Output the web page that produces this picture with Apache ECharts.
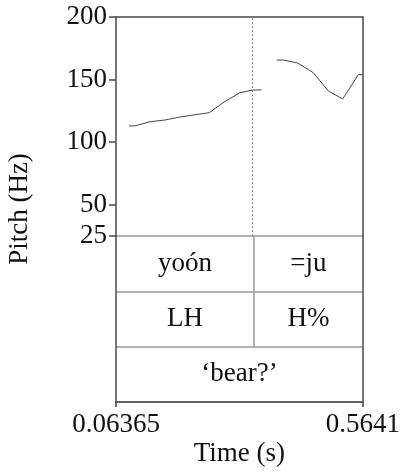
<!DOCTYPE html>
<html>
<head>
<meta charset="utf-8">
<script src="https://cdn.jsdelivr.net/npm/echarts@6/dist/echarts.min.js"></script>
<style>
  html, body { margin: 0; padding: 0; background: #fff; }
  #chart { width: 403px; height: 472px; }
</style>
</head>
<body>
<div id="chart"></div>
<script>
// Time window of the recording (s)
const timeMin = 0.06365;
const timeMax = 0.5641;

// Pitch track, two voiced stretches (time in s, F0 in Hz)
const seg1Time = [0.0900, 0.1022, 0.1325, 0.1629, 0.1933, 0.2237, 0.2527, 0.2825, 0.3149, 0.3418, 0.3589];
const seg1Hz   = [113.0, 113.0, 116.3, 117.7, 120.1, 121.9, 123.5, 132.1, 139.5, 141.7, 141.7];
const seg2Time = [0.3892, 0.4026, 0.4318, 0.4634, 0.4938, 0.5229, 0.5546, 0.5641];
const seg2Hz   = [165.6, 165.6, 163.2, 155.5, 140.9, 134.5, 153.9, 153.9];

// Pitch axis
const pitchMin = 25;
const pitchMax = 200;
const pitchTicks = [25, 50, 100, 150, 200];

// Annotation tiers: word boundary and the labels of each interval
const boundaryTime = 0.3433;
const wordTier  = ['yoón', '=ju'];
const toneTier  = ['LH', 'H%'];
const glossTier = ['‘bear?’'];

const FONT = 'Liberation Serif';
const FS = 27;
const INK = '#111';
const FRAME = '#4a4a4a';
const TIER_LINE = '#9a9a9a';

function pairs(ts, vs) { return ts.map((t, i) => [t, vs[i]]); }

// Interval rows: [start, end, tierIndex, label]
const intervals = [
  [timeMin, boundaryTime, 0, wordTier[0]],
  [boundaryTime, timeMax, 0, wordTier[1]],
  [timeMin, boundaryTime, 1, toneTier[0]],
  [boundaryTime, timeMax, 1, toneTier[1]],
  [timeMin, timeMax, 2, glossTier[0]]
];

const chart = echarts.init(document.getElementById('chart'), null, { renderer: 'canvas' });

const frameAxisLine = { show: true, onZero: false, lineStyle: { color: FRAME, width: 1.5 } };

chart.setOption({
  animation: false,
  backgroundColor: '#fff',
  grid: [
    { left: 116, top: 17, width: 247, height: 219 },
    { left: 116, top: 236, width: 247, height: 166 }
  ],
  xAxis: [
    {
      gridIndex: 0, type: 'value', min: timeMin, max: timeMax, position: 'top',
      axisLine: frameAxisLine, axisTick: { show: false }, axisLabel: { show: false },
      splitLine: { show: false }
    },
    {
      gridIndex: 1, type: 'value', min: timeMin, max: timeMax, position: 'bottom',
      axisLine: frameAxisLine,
      axisTick: { show: true, inside: false, length: 5, lineStyle: { color: FRAME, width: 1.5 },
                  customValues: [timeMin, timeMax] },
      axisLabel: { show: true, margin: 9, fontFamily: FONT, fontSize: FS, color: INK,
                   customValues: [timeMin, timeMax],
                   formatter: v => (Math.abs(v - timeMin) < 1e-9 ? '0.06365' : '0.5641') },
      splitLine: { show: false },
      name: 'Time (s)', nameLocation: 'middle', nameGap: 38,
      nameTextStyle: { fontFamily: FONT, fontSize: FS, color: INK }
    }
  ],
  yAxis: [
    {
      gridIndex: 0, type: 'value', min: pitchMin, max: pitchMax, position: 'left',
      axisLine: frameAxisLine,
      axisTick: { show: true, inside: false, length: 7, lineStyle: { color: FRAME, width: 1.5 },
                  customValues: pitchTicks },
      axisLabel: { show: true, margin: 9, fontFamily: FONT, fontSize: FS, color: INK,
                   customValues: pitchTicks },
      splitLine: { show: false }
    },
    {
      gridIndex: 0, type: 'value', min: pitchMin, max: pitchMax, position: 'right',
      axisLine: frameAxisLine, axisTick: { show: false }, axisLabel: { show: false },
      splitLine: { show: false }
    },
    {
      gridIndex: 1, type: 'value', min: 0, max: 3, interval: 1, inverse: true, position: 'left',
      axisLine: frameAxisLine, axisTick: { show: false }, axisLabel: { show: false },
      splitLine: { show: true, lineStyle: { color: TIER_LINE, width: 1.5 } }
    },
    {
      gridIndex: 1, type: 'value', min: 0, max: 3, inverse: true, position: 'right',
      axisLine: frameAxisLine, axisTick: { show: false }, axisLabel: { show: false },
      splitLine: { show: false }
    }
  ],
  graphic: [
    {
      type: 'text', x: 20, y: 209, rotation: Math.PI / 2,
      style: { text: 'Pitch (Hz)', font: FS + 'px "' + FONT + '"', fill: INK,
               align: 'center', verticalAlign: 'middle' }
    }
  ],
  series: [
    {
      type: 'line', xAxisIndex: 0, yAxisIndex: 0, data: pairs(seg1Time, seg1Hz),
      showSymbol: false, lineStyle: { color: '#444', width: 1 }, silent: true,
      markLine: {
        silent: true, symbol: 'none', label: { show: false },
        lineStyle: { color: '#666', type: [1.5, 2.5], width: 1 },
        data: [{ xAxis: boundaryTime }]
      }
    },
    {
      type: 'line', xAxisIndex: 0, yAxisIndex: 0, data: pairs(seg2Time, seg2Hz),
      showSymbol: false, lineStyle: { color: '#444', width: 1 }, silent: true
    },
    {
      type: 'custom', xAxisIndex: 1, yAxisIndex: 2, silent: true,
      data: intervals,
      renderItem: function (params, api) {
        const start = api.value(0), end = api.value(1), tier = api.value(2);
        const label = intervals[params.dataIndex][3];
        const pTop = api.coord([start, tier]);
        const pBot = api.coord([start, tier + 1]);
        const pEnd = api.coord([end, tier + 0.5]);
        const children = [{
          type: 'text',
          style: { text: label, x: (pTop[0] + pEnd[0]) / 2, y: pEnd[1],
                   align: 'center', verticalAlign: 'middle',
                   font: FS + 'px "' + FONT + '"', fill: INK }
        }];
        if (start > timeMin + 1e-9) {
          children.push({
            type: 'line',
            shape: { x1: pTop[0], y1: pTop[1], x2: pBot[0], y2: pBot[1] },
            style: { stroke: TIER_LINE, lineWidth: 1.5 }
          });
        }
        return { type: 'group', children: children };
      }
    }
  ]
});
</script>
</body>
</html>
